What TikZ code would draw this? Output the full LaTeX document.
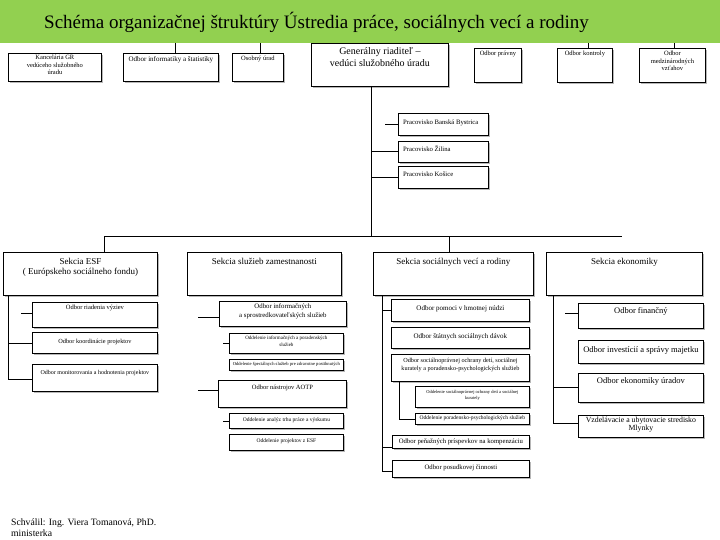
\documentclass[tikz,border=0pt]{standalone}
\usepackage{fontspec}
\setmainfont{Liberation Serif}
\usetikzlibrary{shadows}
\definecolor{band}{HTML}{92D050}
\newcommand{\fs}[2]{\fontsize{#1}{#2}\selectfont}
\tikzset{
  box/.style={draw=black, line width=0.8pt, fill=white, inner sep=0pt,
    drop shadow={shadow xshift=1.6pt, shadow yshift=-1.6pt, fill=black!40, opacity=0.7}},
  lbl/.style={inner sep=0pt, align=center},
  lbll/.style={inner sep=0pt, align=left},
  conn/.style={draw=black, line width=0.8pt},
}
% x1 y1 x2 y2 name dy font text
\newcommand{\cbox}[8]{%
  \node[box, anchor=north west, minimum width={(#3-#1)*1pt}, minimum height={(#4-#2)*1pt}] (#5) at (#1,#2) {};
  \node[lbl, anchor=north, font=#7] (#5t) at ([yshift=-#6pt]#5.north) {#8};}
\newcommand{\lbox}[8]{%
  \node[box, anchor=north west, minimum width={(#3-#1)*1pt}, minimum height={(#4-#2)*1pt}] (#5) at (#1,#2) {};
  \node[lbll, anchor=north west, font=#7] (#5t) at ([xshift=5pt,yshift=-#6pt]#5.north west) {#8};}
\begin{document}
\begin{tikzpicture}[x=1pt,y=-1pt]
\useasboundingbox (0,0) rectangle (720,540);
\fill[white] (0,0) rectangle (720,540);
\fill[band] (0,0) rectangle (720,43);
\node[anchor=west, inner sep=0pt, font=\fs{19}{21}] (title) at (44,22) {Schéma organizačnej štruktúry Ústredia práce, sociálnych vecí a rodiny};

% top row
\cbox{8}{53}{101}{81}{kgr}{2}{\fs{6.5}{7.5}}{Kancelária GR\\vedúceho služobného\\úradu}
\cbox{123}{53}{218}{81}{inf}{3}{\fs{7}{8}}{Odbor informatiky a štatistiky}
\cbox{232}{53}{283}{81}{osu}{3}{\fs{6.5}{7.5}}{Osobný úrad}
\cbox{311}{43}{448}{86}{gr}{4}{\fs{10}{12.5}}{Generálny riaditeľ –\\vedúci služobného úradu}
\cbox{474}{48}{521}{82}{prv}{3}{\fs{6.5}{7.5}}{Odbor právny}
\cbox{557}{48}{612}{82}{kon}{3}{\fs{6.5}{7.5}}{Odbor kontroly}
\cbox{639}{48}{705}{82}{mzv}{3}{\fs{6.5}{7.5}}{Odbor\\medzinárodných\\vzťahov}

\coordinate (ci) at (175,43);
\coordinate (co) at (260,43);
\coordinate (ck) at (588,43);
\coordinate (cm) at (674,43);
\draw[conn] (ci) -- (ci |- inf.north);
\draw[conn] (co) -- (co |- osu.north);
\draw[conn] (ck) -- (ck |- kon.north);
\draw[conn] (cm) -- (cm |- mzv.north);

% pracoviská
\lbox{398}{113}{488}{135}{pbb}{6.5}{\fs{6.7}{7.5}}{Pracovisko Banská Bystrica}
\lbox{398}{141}{488}{162}{pza}{4.5}{\fs{6.7}{7.5}}{Pracovisko Žilina}
\lbox{398}{166}{488}{188}{pke}{5.5}{\fs{6.7}{7.5}}{Pracovisko Košice}

\coordinate (gt) at (371,86);
\coordinate (bus) at (371,236);
\draw[conn] (gt) -- (bus);
\coordinate (p1) at (385,124);
\draw[conn] (p1) -- (p1 -| pbb.west);
\draw[conn] (gt |- pza.west) -- (pza.west);
\draw[conn] (gt |- pke.west) -- (pke.west);

% sections
\cbox{3}{252}{157}{295}{esf}{6}{\fs{9}{10.5}}{Sekcia ESF\\( Európskeho sociálneho fondu)}
\cbox{187}{252}{341}{295}{szz}{6}{\fs{9}{10.5}}{Sekcia služieb zamestnanosti}
\cbox{373}{252}{533}{295}{svr}{6}{\fs{9}{10.5}}{Sekcia sociálnych vecí a rodiny}
\cbox{546}{252}{702}{295}{sek}{6}{\fs{9}{10.5}}{Sekcia ekonomiky}

\coordinate (bl) at (104,236);
\coordinate (br) at (622,236);
\coordinate (bs) at (449,236);
\draw[conn] (bl) -- (br);
\draw[conn] (bl) -- (bl |- esf.north);
\draw[conn] (bs) -- (bs |- svr.north);

% ESF column
\cbox{32}{302}{157}{327}{ea}{3}{\fs{6.5}{7.5}}{Odbor riadenia výziev}
\cbox{32}{332}{157}{353}{eb}{7}{\fs{6.3}{7.5}}{Odbor koordinácie projektov}
\cbox{32}{364}{157}{391}{ec}{6}{\fs{6}{7}}{Odbor monitorovania a hodnotenia projektov}
\coordinate (et) at (8,295);
\coordinate (ee) at (8,379);
\draw[conn] (et) -- (ee);
\coordinate (ex) at (21,313);
\draw[conn] (ex) -- (ex -| ea.west);
\draw[conn] (et |- eb.west) -- (eb.west);
\draw[conn] (ee) -- (ee -| ec.west);

% služby zamestnanosti column
\cbox{219}{301}{346}{326}{sa}{3}{\fs{6.8}{8.5}}{Odbor informačných\\a sprostredkovateľských služieb}
\cbox{229}{333}{343}{353}{sb}{3}{\fs{5}{7}}{Oddelenie informačných a poradenských\\služieb}
\cbox{229}{359}{343}{370}{sc}{3}{\fs{4.6}{6}}{Oddelenie špeciálnych služieb pre zdravotne postihnutých}
\cbox{218}{380}{346}{407}{sd}{5}{\fs{6.5}{7.5}}{Odbor nástrojov AOTP}
\cbox{229}{413}{343}{428}{se}{4}{\fs{5.5}{6.5}}{Oddelenie analýz trhu práce a výskumu}
\cbox{229}{434}{343}{450}{sf}{4}{\fs{5.5}{6.5}}{Oddelenie projektov z ESF}
\coordinate (sx1) at (198,317);
\coordinate (sx2) at (223,343);
\coordinate (sx3) at (198,390);
\coordinate (sx4) at (223,421);
\draw[conn] (sx1) -- (sx1 -| sa.west);
\draw[conn] (sx2) -- (sx2 -| sb.west);
\draw[conn] (sx3) -- (sx3 -| sd.west);
\draw[conn] (sx4) -- (sx4 -| se.west);

% sociálne veci column
\cbox{391}{299}{529}{321}{va}{6}{\fs{7}{8}}{Odbor pomoci v hmotnej núdzi}
\cbox{391}{327}{529}{348}{vb}{6}{\fs{7}{8}}{Odbor štátnych sociálnych dávok}
\cbox{391}{354}{529}{381}{vc}{4}{\fs{6.2}{7.5}}{Odbor sociálnoprávnej ochrany detí, sociálnej\\kurately a poradensko-psychologických služieb}
\cbox{415}{386}{529}{407}{vd}{4}{\fs{4.5}{6}}{Oddelenie sociálnoprávnej ochrany detí a sociálnej\\kurately}
\cbox{415}{413}{529}{424}{ve}{2.5}{\fs{5.5}{6.5}}{Oddelenie poradensko-psychologických služieb}
\cbox{392}{435}{529}{448}{vf}{3.5}{\fs{6.7}{7.5}}{Odbor peňažných príspevkov na kompenzáciu}
\cbox{392}{460}{529}{477}{vg}{5}{\fs{6.7}{7.5}}{Odbor posudkovej činnosti}
\coordinate (vt) at (382,295);
\coordinate (vz) at (382,471);
\draw[conn] (vt) -- (vz);
\coordinate (v1) at (382,310);
\draw[conn] (v1) -- (v1 -| va.west);
\coordinate (v6) at (382,447);
\draw[conn] (v6) -- (v6 -| vf.west);
\draw[conn] (vz) -- (vz -| vg.west);
\coordinate (ut) at (399,381);
\coordinate (uz) at (399,419);
\draw[conn] (ut) -- (uz) -- (uz -| ve.west);

% ekonomika column
\cbox{578}{303}{703}{328}{ka}{4.5}{\fs{8.5}{9.5}}{Odbor finančný}
\cbox{578}{340}{703}{363}{kb}{6.5}{\fs{8.5}{9.5}}{Odbor investícií a správy majetku}
\cbox{578}{373}{703}{402}{kc}{4.5}{\fs{8.5}{9.5}}{Odbor ekonomiky úradov}
\cbox{578}{415}{703}{437}{kd}{1.5}{\fs{7.8}{8.5}}{Vzdelávacie a ubytovacie stredisko\\Mlynky}
\coordinate (kt) at (553,295);
\coordinate (kz) at (553,423);
\draw[conn] (kt) -- (kz) -- (kz -| kd.west);
\coordinate (k1) at (565,313);
\draw[conn] (k1) -- (k1 -| ka.west);
\coordinate (k3) at (553,387);
\draw[conn] (k3) -- (k3 -| kc.west);

% footer
\node[anchor=base west, inner sep=0pt, font=\fs{9.7}{11}] (sch) at (11,525) {Schválil: Ing. Viera Tomanová, PhD.};
\node[anchor=base west, inner sep=0pt, font=\fs{9.7}{11}] (min) at (11,536) {ministerka};
\end{tikzpicture}
\end{document}
